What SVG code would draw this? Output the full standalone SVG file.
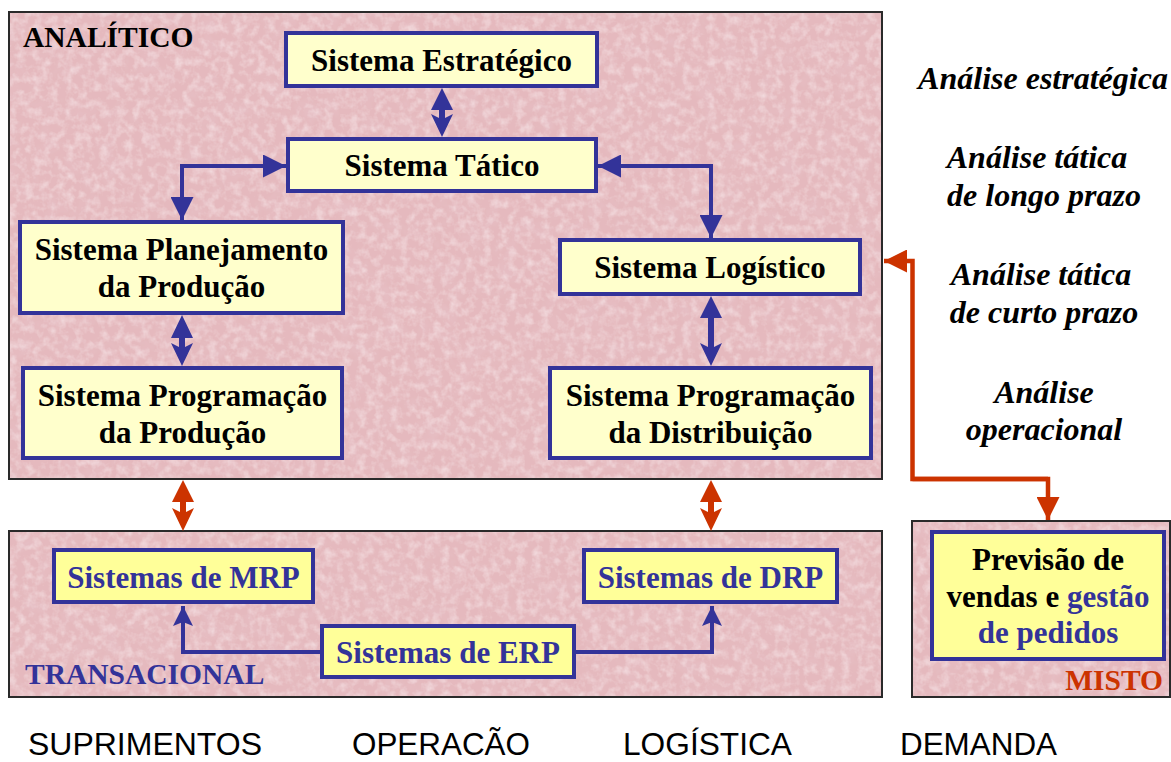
<svg xmlns="http://www.w3.org/2000/svg" width="1171" height="762" viewBox="0 0 1171 762">
<style>
.panel{fill:#E5B9BE;stroke:#2a2a2a;stroke-width:2}
.tex{filter:url(#marble)}
.boxA{fill:#FFFFCC;stroke:#333399;stroke-width:4}
.boxT{fill:#FFFF99;stroke:#333399;stroke-width:4}
.t{font-family:"Liberation Serif","Times New Roman",serif;font-weight:bold;font-size:31px;text-anchor:middle;fill:#000}
.tb{fill:#333399}
.lab{font-family:"Liberation Serif","Times New Roman",serif;font-weight:bold;font-size:29.5px}
.an{font-family:"Liberation Serif","Times New Roman",serif;font-weight:bold;font-style:italic;font-size:32px;text-anchor:middle;fill:#000}
.foot{font-family:"Liberation Sans",Arial,sans-serif;font-size:31px;fill:#000}
.cb{fill:none;stroke:#333399;stroke-width:4}
.cr{fill:none;stroke:#CC3300;stroke-width:4.5}
.dab{fill:#333399}
.dar{fill:#CC3300}
</style>
<defs>
<filter id="marble" x="0" y="0" width="100%" height="100%">
<feTurbulence type="fractalNoise" baseFrequency="0.05" numOctaves="4" seed="7" result="n"/>
<feColorMatrix in="n" type="matrix" values="0 0 0 0 0.80  0 0 0 0 0.56  0 0 0 0 0.61  1.0 0 0 0 -0.48" result="dark"/>
<feTurbulence type="fractalNoise" baseFrequency="0.12" numOctaves="3" seed="3" result="n2"/>
<feColorMatrix in="n2" type="matrix" values="0 0 0 0 0.96  0 0 0 0 0.84  0 0 0 0 0.86  1.1 0 0 0 -0.46" result="light"/>
<feMerge result="m"><feMergeNode in="SourceGraphic"/><feMergeNode in="dark"/><feMergeNode in="light"/></feMerge>
<feComposite in="m" in2="SourceGraphic" operator="in"/>
</filter>
<marker id="hb" viewBox="0 0 23 23" refX="23" refY="11.5" markerWidth="23" markerHeight="23" markerUnits="userSpaceOnUse" orient="auto">
<path d="M0,0 L23,11.5 L0,23 z" fill="#333399"/>
</marker>
<marker id="hbn" viewBox="0 0 20 20" refX="20" refY="10" markerWidth="20" markerHeight="20" markerUnits="userSpaceOnUse" orient="auto">
<path d="M0,0 L20,10 L0,20 L4,10 z" fill="#333399"/>
</marker>
<marker id="hr" viewBox="0 0 23 23" refX="23" refY="11.5" markerWidth="23" markerHeight="23" markerUnits="userSpaceOnUse" orient="auto">
<path d="M0,0 L23,11.5 L0,23 z" fill="#CC3300"/>
</marker>
</defs>
<rect width="1171" height="762" fill="#fff"/>

<g id="panel-analitico">
<rect class="panel tex" x="9" y="12" width="873" height="467"/>
<rect x="9" y="12" width="873" height="467" fill="none" stroke="#2a2a2a" stroke-width="2"/>
<text class="lab" x="23" y="47" fill="#000">ANALÍTICO</text>
</g>
<g id="panel-transacional">
<rect class="panel tex" x="9" y="531" width="873" height="166"/>
<rect x="9" y="531" width="873" height="166" fill="none" stroke="#2a2a2a" stroke-width="2"/>
<text class="lab" x="25" y="684" fill="#333399">TRANSACIONAL</text>
</g>
<g id="panel-misto">
<rect class="panel tex" x="912" y="521" width="258" height="176"/>
<rect x="912" y="521" width="258" height="176" fill="none" stroke="#2a2a2a" stroke-width="2"/>
</g>

<g id="connectors">
<path class="cb" d="M182,166 L286,166" marker-end="url(#hb)"/>
<path class="cb" d="M184,166 L182,166 L182,220" marker-end="url(#hb)"/>
<path class="cb" d="M620,166 L711,166 L711,238" marker-end="url(#hb)"/>
<path class="cb" d="M711,166 L620,166 L598,166" marker-end="url(#hb)"/>
<path class="cb" d="M320,652 L183,652 L183,606" marker-end="url(#hbn)"/>
<path class="cb" d="M576,652 L712,652 L712,606" marker-end="url(#hbn)"/>
<path class="cr" d="M1048,479 L912.5,479 L912.5,261 L884,261" marker-end="url(#hr)"/>
<path class="cr" d="M912.5,479 L1048,479 L1048,520" marker-end="url(#hr)"/>
<path class="dab" d="M442,88 L453,110 L445,110 L445,118 L453,114 L442,137 L431,114 L439,118 L439,110 L431,110 z"/>
<path class="dab" d="M182,315 L193,338 L185,338 L185,347 L193,343 L182,366 L171,343 L179,347 L179,338 L171,338 z"/>
<path class="dab" d="M711,296 L722,318 L714,318 L714,347 L722,343 L711,366 L700,343 L708,347 L708,318 L700,318 z"/>
<path class="dar" d="M183,480 L194,502 L186,502 L186,512 L194,508 L183,531 L172,508 L180,512 L180,502 L172,502 z"/>
<path class="dar" d="M711,480 L722,502 L714,502 L714,512 L722,508 L711,531 L700,508 L708,512 L708,502 L700,502 z"/>
</g>

<g id="n-estrategico">
<rect class="boxA" x="286" y="33" width="311" height="53"/>
<text class="t" x="441.5" y="71">Sistema Estratégico</text>
</g>
<g id="n-tatico">
<rect class="boxA" x="288" y="139" width="308" height="52"/>
<text class="t" x="442" y="176">Sistema Tático</text>
</g>
<g id="n-planejamento">
<rect class="boxA" x="20" y="222" width="323" height="91"/>
<text class="t" x="181.5" y="260">Sistema Planejamento</text>
<text class="t" x="181.5" y="297">da Produção</text>
</g>
<g id="n-prog-producao">
<rect class="boxA" x="23" y="368" width="319" height="90"/>
<text class="t" x="182.5" y="406">Sistema Programação</text>
<text class="t" x="182.5" y="443">da Produção</text>
</g>
<g id="n-logistico">
<rect class="boxA" x="560" y="240" width="300" height="54"/>
<text class="t" x="710" y="278">Sistema Logístico</text>
</g>
<g id="n-prog-distribuicao">
<rect class="boxA" x="550" y="368" width="321" height="90"/>
<text class="t" x="710.5" y="406">Sistema Programação</text>
<text class="t" x="710.5" y="443">da Distribuição</text>
</g>
<g id="n-mrp">
<rect class="boxT" x="54" y="550" width="259" height="52"/>
<text class="t tb" x="183.5" y="588">Sistemas de MRP</text>
</g>
<g id="n-drp">
<rect class="boxT" x="584" y="550" width="253" height="52"/>
<text class="t tb" x="710.5" y="588">Sistemas de DRP</text>
</g>
<g id="n-erp">
<rect class="boxT" x="322" y="626" width="252" height="51"/>
<text class="t tb" x="448" y="663">Sistemas de ERP</text>
</g>
<g id="n-previsao">
<rect class="boxT" x="932" y="532" width="232" height="127"/>
<text class="t" x="1048" y="570">Previsão de</text>
<text class="t" x="1048" y="607">vendas e <tspan fill="#333399">gestão</tspan></text>
<text class="t tb" x="1048" y="643">de pedidos</text>
<text class="lab" x="1163" y="690" fill="#CC3300" text-anchor="end">MISTO</text>
</g>

<g id="analise-labels">
<text class="an" x="1043" y="89">Análise estratégica</text>
<text class="an" x="1037" y="168">Análise tática</text>
<text class="an" x="1044" y="206">de longo prazo</text>
<text class="an" x="1041" y="285">Análise tática</text>
<text class="an" x="1044" y="323">de curto prazo</text>
<text class="an" x="1044" y="403">Análise</text>
<text class="an" x="1044" y="440">operacional</text>
</g>

<g id="footer">
<text class="foot" x="28" y="755" textLength="234" lengthAdjust="spacingAndGlyphs">SUPRIMENTOS</text>
<text class="foot" x="352" y="755" textLength="178" lengthAdjust="spacingAndGlyphs">OPERACÃO</text>
<text class="foot" x="623" y="755" textLength="169" lengthAdjust="spacingAndGlyphs">LOGÍSTICA</text>
<text class="foot" x="900" y="755" textLength="157" lengthAdjust="spacingAndGlyphs">DEMANDA</text>
</g>
</svg>
